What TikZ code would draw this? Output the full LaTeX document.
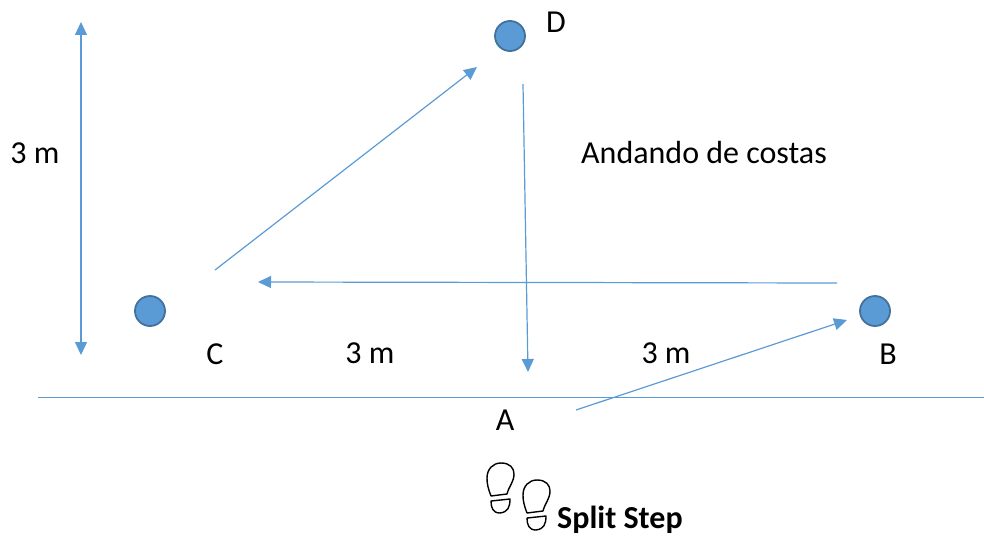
\documentclass[tikz,border=0pt]{standalone}
\usepackage{fontspec}
\setmainfont{Carlito}
\usetikzlibrary{arrows.meta}
\definecolor{acc}{HTML}{5B9BD5}
\definecolor{accd}{HTML}{41719C}
\tikzset{
  dot/.style={circle,draw=accd,line width=1.8pt,fill=acc,minimum size=30pt,inner sep=0pt},
  lab/.style={font=\fontsize{32}{38}\selectfont,text=black,inner sep=0pt},
  flow/.style={draw=acc,line width=1.2pt,-{Triangle[length=13pt,width=12pt]}},
  flowb/.style={draw=acc,line width=1.2pt,{Triangle[length=13pt,width=12pt]}-{Triangle[length=13pt,width=12pt]}},
  shoe/.style={draw=black,line width=1.4pt,fill=white,line join=round}
}
\begin{document}
\begin{tikzpicture}[x=1pt,y=-1pt]
\useasboundingbox (0,0) rectangle (984,535);
\node[dot] (D) at (510,36) {};
\node[dot] (C) at (150,311) {};
\node[dot] (B) at (875,311) {};
\node[lab] (tD) at (556,22) {D};
\node[lab] (tC) at (215,354) {C};
\node[lab] (tB) at (888,354) {B};
\node[lab] (tA) at (505,420) {A};
\node[lab] (m1) at (35,153) {3 m};
\node[lab] (m2) at (370,353) {3 m};
\node[lab] (m3) at (666,353) {3 m};
\node[lab,anchor=west] (and) at (581,153) {Andando de costas};
\node[lab,anchor=west,font=\fontsize{32}{38}\selectfont\bfseries] (split) at (557,520) {Split Step};
\coordinate (c1) at (215,270); \coordinate (c2) at (477,67);
\coordinate (d1) at (523,84); \coordinate (d2) at (528,372);
\coordinate (b1) at (837,283); \coordinate (b2) at (258,282);
\coordinate (a1) at (576,410); \coordinate (a2) at (847,320);
\coordinate (v1) at (81,22); \coordinate (v2) at (81,355);
\coordinate (h1) at (38,397); \coordinate (h2) at (984,397);
\draw[flow] (c1) -- (c2);
\draw[flow] (d1) -- (d2);
\draw[flow] (b1) -- (b2);
\draw[flow] (a1) -- (a2);
\draw[flowb] (v1) -- (v2);
\draw[draw=acc,line width=.8pt] (h1) -- (h2);
% footprints
\foreach \dx/\dy in {0/0,36/17}{
  \begin{scope}[shift={(\dx,\dy)}]
  \draw[shoe] (491,496) .. controls (488,488) and (487,484) .. (487,478)
     .. controls (487,469) and (493,463) .. (501,463)
     .. controls (510,463) and (514,468) .. (514,474)
     .. controls (514,482) and (509,486) .. (507,494) -- cycle;
  \draw[shoe] (491,501) -- (510,499) .. controls (510,507) and (508,512) .. (500,513)
     .. controls (493,513) and (491,508) .. (491,501) -- cycle;
  \end{scope}
}
\end{tikzpicture}
\end{document}
